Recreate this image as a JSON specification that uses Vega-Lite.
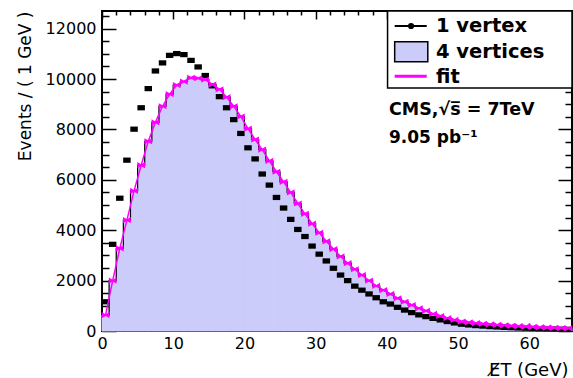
{
  "$schema": "https://vega.github.io/schema/vega-lite/v6.json",
  "width": 470,
  "height": 320,
  "autosize": {"type": "none"},
  "padding": {"left": 102, "top": 11, "right": 1, "bottom": 47},
  "background": "white",
  "config": {
    "view": {"stroke": "black", "strokeWidth": 2},
    "font": "DejaVu Sans"
  },
  "datasets": {
    "h": [
      {"lo":0,"hi":1,"c":0.5,"v1":1160,"v4":630},
      {"lo":1,"hi":2,"c":1.5,"v1":3440,"v4":2000},
      {"lo":2,"hi":3,"c":2.5,"v1":5270,"v4":3280},
      {"lo":3,"hi":4,"c":3.5,"v1":6780,"v4":4400},
      {"lo":4,"hi":5,"c":4.5,"v1":8010,"v4":5560},
      {"lo":5,"hi":6,"c":5.5,"v1":8860,"v4":6580},
      {"lo":6,"hi":7,"c":6.5,"v1":9620,"v4":7530},
      {"lo":7,"hi":8,"c":7.5,"v1":10320,"v4":8280},
      {"lo":8,"hi":9,"c":8.5,"v1":10640,"v4":8920},
      {"lo":9,"hi":10,"c":9.5,"v1":10940,"v4":9400},
      {"lo":10,"hi":11,"c":10.5,"v1":11010,"v4":9760},
      {"lo":11,"hi":12,"c":11.5,"v1":10970,"v4":9900},
      {"lo":12,"hi":13,"c":12.5,"v1":10740,"v4":10050},
      {"lo":13,"hi":14,"c":13.5,"v1":10480,"v4":10030},
      {"lo":14,"hi":15,"c":14.5,"v1":10140,"v4":9980},
      {"lo":15,"hi":16,"c":15.5,"v1":9730,"v4":9780},
      {"lo":16,"hi":17,"c":16.5,"v1":9300,"v4":9590},
      {"lo":17,"hi":18,"c":17.5,"v1":8860,"v4":9280},
      {"lo":18,"hi":19,"c":18.5,"v1":8390,"v4":8920},
      {"lo":19,"hi":20,"c":19.5,"v1":7840,"v4":8510},
      {"lo":20,"hi":21,"c":20.5,"v1":7270,"v4":8030},
      {"lo":21,"hi":22,"c":21.5,"v1":6830,"v4":7600},
      {"lo":22,"hi":23,"c":22.5,"v1":6230,"v4":7200},
      {"lo":23,"hi":24,"c":23.5,"v1":5790,"v4":6750},
      {"lo":24,"hi":25,"c":24.5,"v1":5300,"v4":6320},
      {"lo":25,"hi":26,"c":25.5,"v1":4880,"v4":5920},
      {"lo":26,"hi":27,"c":26.5,"v1":4430,"v4":5500},
      {"lo":27,"hi":28,"c":27.5,"v1":4030,"v4":5060},
      {"lo":28,"hi":29,"c":28.5,"v1":3750,"v4":4650},
      {"lo":29,"hi":30,"c":29.5,"v1":3370,"v4":4260},
      {"lo":30,"hi":31,"c":30.5,"v1":3050,"v4":3900},
      {"lo":31,"hi":32,"c":31.5,"v1":2780,"v4":3560},
      {"lo":32,"hi":33,"c":32.5,"v1":2490,"v4":3250},
      {"lo":33,"hi":34,"c":33.5,"v1":2220,"v4":2960},
      {"lo":34,"hi":35,"c":34.5,"v1":2000,"v4":2690},
      {"lo":35,"hi":36,"c":35.5,"v1":1780,"v4":2450},
      {"lo":36,"hi":37,"c":36.5,"v1":1620,"v4":2220},
      {"lo":37,"hi":38,"c":37.5,"v1":1470,"v4":2000},
      {"lo":38,"hi":39,"c":38.5,"v1":1320,"v4":1790},
      {"lo":39,"hi":40,"c":39.5,"v1":1160,"v4":1620},
      {"lo":40,"hi":41,"c":40.5,"v1":1070,"v4":1470},
      {"lo":41,"hi":42,"c":41.5,"v1":940,"v4":1300},
      {"lo":42,"hi":43,"c":42.5,"v1":830,"v4":1160},
      {"lo":43,"hi":44,"c":43.5,"v1":730,"v4":1030},
      {"lo":44,"hi":45,"c":44.5,"v1":640,"v4":900},
      {"lo":45,"hi":46,"c":45.5,"v1":570,"v4":800},
      {"lo":46,"hi":47,"c":46.5,"v1":500,"v4":680},
      {"lo":47,"hi":48,"c":47.5,"v1":440,"v4":595},
      {"lo":48,"hi":49,"c":48.5,"v1":375,"v4":510},
      {"lo":49,"hi":50,"c":49.5,"v1":320,"v4":440},
      {"lo":50,"hi":51,"c":50.5,"v1":270,"v4":375},
      {"lo":51,"hi":52,"c":51.5,"v1":240,"v4":340},
      {"lo":52,"hi":53,"c":52.5,"v1":215,"v4":310},
      {"lo":53,"hi":54,"c":53.5,"v1":195,"v4":285},
      {"lo":54,"hi":55,"c":54.5,"v1":175,"v4":262},
      {"lo":55,"hi":56,"c":55.5,"v1":160,"v4":242},
      {"lo":56,"hi":57,"c":56.5,"v1":145,"v4":224},
      {"lo":57,"hi":58,"c":57.5,"v1":132,"v4":206},
      {"lo":58,"hi":59,"c":58.5,"v1":120,"v4":190},
      {"lo":59,"hi":60,"c":59.5,"v1":110,"v4":175},
      {"lo":60,"hi":61,"c":60.5,"v1":100,"v4":160},
      {"lo":61,"hi":62,"c":61.5,"v1":92,"v4":148},
      {"lo":62,"hi":63,"c":62.5,"v1":85,"v4":136},
      {"lo":63,"hi":64,"c":63.5,"v1":78,"v4":125},
      {"lo":64,"hi":65,"c":64.5,"v1":72,"v4":115},
      {"lo":65,"hi":66,"c":65.5,"v1":66,"v4":106}
    ]
  },
  "data": {"name": "h"},
  "resolve": {"axis": {"x": "independent", "y": "independent"}},
  "layer": [
    {
      "mark": {"type": "rect", "color": "#ccccfa", "stroke": "#ccccfa", "strokeWidth": 1},
      "encoding": {
        "x": {
          "field": "lo", "type": "quantitative",
          "scale": {"domain": [0, 66], "nice": false, "zero": false},
          "axis": {
            "orient": "bottom",
            "values": [0,2,4,6,8,10,12,14,16,18,20,22,24,26,28,30,32,34,36,38,40,42,44,46,48,50,52,54,56,58,60,62,64],
            "tickSize": {"expr": "datum.value % 10 === 0 ? -8 : -4"},
            "labelExpr": "datum.value % 10 === 0 ? datum.label : ''",
            "domain": false, "grid": false,
            "tickColor": "black", "tickWidth": 1.5,
            "labelFont": "DejaVu Sans", "labelFontSize": 16, "labelColor": "black",
            "labelPadding": 12, "labelFlush": false, "labelOverlap": false,
            "title": "E̸T (GeV)", "titleFont": "DejaVu Sans", "titleFontSize": 18,
            "titleFontWeight": "normal", "titleColor": "black",
            "titleAnchor": "end", "titleAlign": "right", "titleX": 466, "titlePadding": 6
          }
        },
        "x2": {"field": "hi"},
        "y": {
          "field": "v4", "type": "quantitative",
          "scale": {"domain": [0, 12700], "nice": false, "zero": true},
          "axis": {
            "orient": "left",
            "values": [0,500,1000,1500,2000,2500,3000,3500,4000,4500,5000,5500,6000,6500,7000,7500,8000,8500,9000,9500,10000,10500,11000,11500,12000,12500],
            "tickSize": {"expr": "datum.value % 2000 === 0 ? -14 : -7"},
            "labelExpr": "datum.value % 2000 === 0 ? datum.label : ''",
            "format": "d",
            "domain": false, "grid": false,
            "tickColor": "black", "tickWidth": 1.5,
            "labelFont": "DejaVu Sans", "labelFontSize": 16, "labelColor": "black",
            "labelPadding": 20, "labelFlush": false, "labelOverlap": false,
            "title": "Events / ( 1 GeV )", "titleFont": "DejaVu Sans", "titleFontSize": 17,
            "titleFontWeight": "normal", "titleColor": "black",
            "titleAnchor": "end", "titlePadding": 11
          }
        },
        "y2": {"datum": 0}
      }
    },
    {
      "mark": {"type": "line", "interpolate": "step", "color": "black", "strokeWidth": 1.2},
      "encoding": {
        "x": {"field": "c", "type": "quantitative", "axis": null},
        "y": {"field": "v4", "type": "quantitative", "axis": null}
      }
    },
    {
      "mark": {"type": "point", "filled": true, "opacity": 1, "size": 56, "color": "black", "shape": "M-1,-0.7H1V0.7H-1Z"},
      "encoding": {
        "x": {"field": "c", "type": "quantitative", "axis": null},
        "y": {"field": "v1", "type": "quantitative", "axis": null}
      }
    },
    {
      "mark": {"type": "line", "strokeWidth": 1.5, "color": "#ff00ff"},
      "encoding": {
        "x": {"field": "c", "type": "quantitative", "axis": null},
        "y": {"field": "v4", "type": "quantitative", "axis": null}
      }
    },
    {
      "mark": {"type": "point", "filled": true, "opacity": 1, "size": 60, "color": "#ff00ff", "shape": "M-1,-0.8L0,-0.25L1,-0.8L1,0.8L0,0.25L-1,0.8Z"},
      "encoding": {
        "x": {"field": "c", "type": "quantitative", "axis": null},
        "y": {"field": "v4", "type": "quantitative", "axis": null}
      }
    },
    {
      "mark": {"type": "point", "opacity": 0},
      "encoding": {
        "x": {
          "field": "c", "type": "quantitative",
          "axis": {
            "orient": "top",
            "values": [0,2,4,6,8,10,12,14,16,18,20,22,24,26,28,30,32,34,36,38,40,42,44,46,48,50,52,54,56,58,60,62,64],
            "tickSize": {"expr": "datum.value % 10 === 0 ? -8 : -4"},
            "labels": false, "domain": false, "grid": false, "title": null,
            "tickColor": "black", "tickWidth": 1.5
          }
        },
        "y": {
          "field": "v4", "type": "quantitative",
          "axis": {
            "orient": "right",
            "values": [0,500,1000,1500,2000,2500,3000,3500,4000,4500,5000,5500,6000,6500,7000,7500,8000,8500,9000,9500,10000,10500,11000,11500,12000,12500],
            "tickSize": {"expr": "datum.value % 2000 === 0 ? -14 : -7"},
            "labels": false, "domain": false, "grid": false, "title": null,
            "tickColor": "black", "tickWidth": 1.5
          }
        }
      }
    },
    {
      "data": {"values": [{}]},
      "mark": {"type": "rect", "fill": "white", "stroke": "black", "strokeWidth": 1.5},
      "encoding": {
        "x": {"datum": 40.1, "type": "quantitative", "axis": null},
        "x2": {"datum": 66},
        "y": {"datum": 9640, "type": "quantitative", "axis": null},
        "y2": {"datum": 12700}
      }
    },
    {
      "data": {"values": [{}]},
      "mark": {"type": "rule", "color": "black", "strokeWidth": 2},
      "encoding": {
        "x": {"datum": 41.1, "type": "quantitative", "axis": null},
        "x2": {"datum": 45.6},
        "y": {"datum": 12105, "type": "quantitative", "axis": null}
      }
    },
    {
      "data": {"values": [{}]},
      "mark": {"type": "point", "shape": "circle", "filled": true, "opacity": 1, "color": "black", "size": 38},
      "encoding": {
        "x": {"datum": 43.4, "type": "quantitative", "axis": null},
        "y": {"datum": 12105, "type": "quantitative", "axis": null}
      }
    },
    {
      "data": {"values": [{}]},
      "mark": {"type": "rect", "fill": "#ccccfa", "stroke": "black", "strokeWidth": 1.5},
      "encoding": {
        "x": {"datum": 41.1, "type": "quantitative", "axis": null},
        "x2": {"datum": 45.75},
        "y": {"datum": 10690, "type": "quantitative", "axis": null},
        "y2": {"datum": 11480}
      }
    },
    {
      "data": {"values": [{}]},
      "mark": {"type": "rule", "color": "#ff00ff", "strokeWidth": 3},
      "encoding": {
        "x": {"datum": 41.1, "type": "quantitative", "axis": null},
        "x2": {"datum": 45.6},
        "y": {"datum": 10110, "type": "quantitative", "axis": null}
      }
    },
    {
      "data": {"values": [{}]},
      "mark": {"type": "text", "text": "1 vertex", "align": "left", "baseline": "middle", "font": "DejaVu Sans", "fontWeight": "bold", "fontSize": 19.5, "color": "black"},
      "encoding": {
        "x": {"datum": 46.9, "type": "quantitative", "axis": null},
        "y": {"datum": 12105, "type": "quantitative", "axis": null}
      }
    },
    {
      "data": {"values": [{}]},
      "mark": {"type": "text", "text": "4 vertices", "align": "left", "baseline": "middle", "font": "DejaVu Sans", "fontWeight": "bold", "fontSize": 19.5, "color": "black"},
      "encoding": {
        "x": {"datum": 46.9, "type": "quantitative", "axis": null},
        "y": {"datum": 11085, "type": "quantitative", "axis": null}
      }
    },
    {
      "data": {"values": [{}]},
      "mark": {"type": "text", "text": "fit", "align": "left", "baseline": "middle", "font": "DejaVu Sans", "fontWeight": "bold", "fontSize": 19.5, "color": "black"},
      "encoding": {
        "x": {"datum": 46.9, "type": "quantitative", "axis": null},
        "y": {"datum": 10100, "type": "quantitative", "axis": null}
      }
    },
    {
      "data": {"values": [{}]},
      "mark": {"type": "text", "text": "CMS,√s̅ = 7TeV", "align": "left", "baseline": "middle", "font": "DejaVu Sans", "fontWeight": "bold", "fontSize": 17.5, "color": "black"},
      "encoding": {
        "x": {"datum": 40.3, "type": "quantitative", "axis": null},
        "y": {"datum": 8760, "type": "quantitative", "axis": null}
      }
    },
    {
      "data": {"values": [{}]},
      "mark": {"type": "text", "text": "9.05 pb⁻¹", "align": "left", "baseline": "middle", "font": "DejaVu Sans", "fontWeight": "bold", "fontSize": 17, "color": "black"},
      "encoding": {
        "x": {"datum": 40.3, "type": "quantitative", "axis": null},
        "y": {"datum": 7650, "type": "quantitative", "axis": null}
      }
    }
  ]
}
